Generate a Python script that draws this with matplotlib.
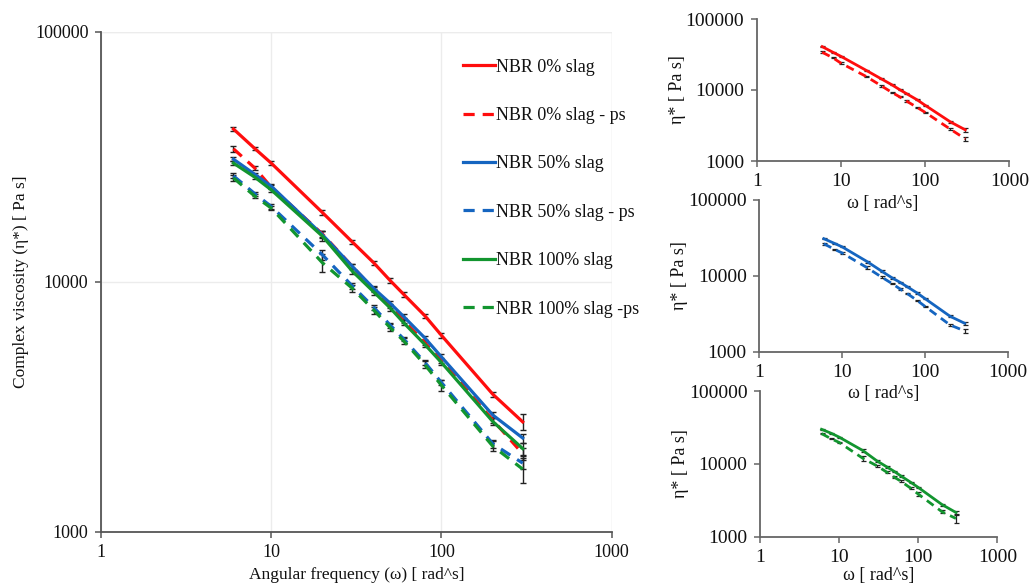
import matplotlib
matplotlib.use("Agg")
import matplotlib.pyplot as plt
from matplotlib.ticker import FixedLocator, NullLocator, FixedFormatter

plt.rcParams['font.family'] = ['Liberation Serif', 'DejaVu Serif']
plt.rcParams['mathtext.fontset'] = 'stix'

# ---------------- data ----------------
freq = [6, 8, 10, 20, 30, 40, 50, 60, 80, 100, 200, 300]

nbr0 = [40800, 34100, 29800, 18900, 14400, 11900, 10100, 8900, 7300, 6100, 3550, 2750]
nbr0_ps = [34000, 28500, 23900, 15500, 11500, 9300, 8000, 7000, 5700, 4850, 2800, 2050]
nbr50 = [30900, 26900, 24100, 15400, 11500, 9400, 8200, 7250, 5950, 5000, 2930, 2370]
nbr50_ps = [26500, 22500, 20000, 12800, 9600, 7900, 6700, 5900, 4750, 3950, 2250, 1880]
nbr100 = [29800, 26200, 23300, 15200, 11000, 9100, 7850, 6850, 5600, 4750, 2760, 2150]
nbr100_ps = [26000, 22000, 19700, 11900, 9400, 7700, 6550, 5800, 4650, 3850, 2200, 1780]

err0 = [700, 500, 500, 500, 300, 250, 200, 180, 150, 120, 80, 200]
err0_ps = [900, 500, 500, 400, 300, 200, 150, 150, 120, 100, 70, 120]
err50 = [600, 400, 400, 500, 300, 250, 200, 150, 120, 120, 80, 100]
err50_ps = [600, 400, 400, 600, 250, 200, 150, 120, 100, 100, 80, 100]
err100 = [600, 400, 400, 700, 300, 250, 200, 150, 120, 100, 80, 120]
err100_ps = [700, 400, 400, 1000, 300, 250, 200, 150, 150, 200, 100, 220]

labels = ["NBR 0% slag", "NBR 0% slag - ps", "NBR 50% slag", "NBR 50% slag - ps",
          "NBR 100% slag", "NBR 100% slag -ps"]
x_ticks = [1, 10, 100, 1000]
x_tick_labels = ["1", "10", "100", "1000"]
y_ticks = [1000, 10000, 100000]
y_tick_labels = ["1000", "10000", "100000"]

RED = '#ff0d0d'
BLUE = '#1565c0'
GREEN = '#12952f'

series = [
    (nbr0, err0, RED, '-'),
    (nbr0_ps, err0_ps, RED, '--'),
    (nbr50, err50, BLUE, '-'),
    (nbr50_ps, err50_ps, BLUE, '--'),
    (nbr100, err100, GREEN, '-'),
    (nbr100_ps, err100_ps, GREEN, '--'),
]

W, H = 1032, 585
fig = plt.figure(figsize=(W / 100, H / 100), dpi=100)


def px_axes(l, t, r, b):
    a = fig.add_axes([l / W, 1 - b / H, (r - l) / W, (b - t) / H])
    a.patch.set_alpha(0)
    return a


def style_axes(ax, fs, spine_col, pad):
    ax.set_xscale('log')
    ax.set_yscale('log')
    ax.set_xlim(1, 1000)
    ax.set_ylim(1000, 100000)
    ax.xaxis.set_major_locator(FixedLocator(x_ticks))
    ax.xaxis.set_major_formatter(FixedFormatter(x_tick_labels))
    ax.yaxis.set_major_locator(FixedLocator(y_ticks))
    ax.yaxis.set_major_formatter(FixedFormatter(y_tick_labels))
    ax.xaxis.set_minor_locator(NullLocator())
    ax.yaxis.set_minor_locator(NullLocator())
    for s in ['top', 'right']:
        ax.spines[s].set_visible(False)
    for s in ['left', 'bottom']:
        ax.spines[s].set_color(spine_col)
        ax.spines[s].set_linewidth(1.3)
    ax.tick_params(axis='both', direction='out', length=4, width=1.1,
                   color=spine_col, labelsize=fs, labelcolor='#111111', pad=pad)


# ---------------- main chart ----------------
ax = px_axes(101, 31.7, 611.7, 531.7)
style_axes(ax, 13, '#555555', 5)
ax.grid(True, which='major', color='#ececec', linewidth=1.0)
ax.set_axisbelow(True)
ax.axhline(100000, color='#ececec', linewidth=1.0, zorder=0)
ax.axvline(1000, color='#ececec', linewidth=1.0, zorder=0)

handles = []
for (vals, err, col, ls), lab in zip(series, labels):
    ax.errorbar(freq, vals, yerr=err, fmt='none', ecolor='#222222',
                elinewidth=1.0, capsize=2.2, capthick=1.0, zorder=3)
    if ls == '--':
        ln, = ax.plot(freq, vals, color=col, linewidth=2.3, linestyle=(0, (3.5, 2.5)),
                      dash_capstyle='butt', label=lab, zorder=4)
    else:
        ln, = ax.plot(freq, vals, color=col, linewidth=2.3, linestyle='-',
                      label=lab, zorder=4)
    handles.append(ln)

ax.set_xlabel("Angular frequency (ω) [ rad^s]", fontsize=12.5, labelpad=4.5, color='#111111')
ax.set_ylabel("Complex viscosity (η*) [ Pa s]", fontsize=12.5, labelpad=4, color='#111111')

leg = ax.legend(handles=handles, loc='upper left',
                bbox_to_anchor=(463 / W, 1 - 58.5 / H), bbox_transform=fig.transFigure,
                frameon=False, fontsize=13, handlelength=1.75, handletextpad=0.1,
                labelspacing=1.74, borderpad=0, borderaxespad=0)
for t in leg.get_texts():
    t.set_color('#111111')

# ---------------- small charts ----------------
small = [
    ((756.7, 19, 1009.3, 161), [0, 1], 3),
    ((759.3, 200, 1008, 351.7), [2, 3], 3),
    ((760, 391, 997.3, 536.7), [4, 5], 0.5),
]
for (l, t, r, b), idx, xlp in small:
    sa = px_axes(l, t, r, b)
    style_axes(sa, 14, '#666666', 5)
    for i in idx:
        vals, err, col, ls = series[i]
        sa.errorbar(freq, vals, yerr=err, fmt='none', ecolor='#222222',
                    elinewidth=0.9, capsize=1.8, capthick=0.9, zorder=3)
        if ls == '--':
            sa.plot(freq, vals, color=col, linewidth=2.0, linestyle=(0, (3, 2)),
                    dash_capstyle='butt', zorder=4)
        else:
            sa.plot(freq, vals, color=col, linewidth=2.0, zorder=4)
    sa.set_xlabel("ω [ rad^s]", fontsize=13, labelpad=xlp, color='#111111')
    sa.set_ylabel("η* [ Pa s]", fontsize=13, labelpad=0, color='#111111')

fig.savefig("out.png", dpi=100, facecolor='white')
